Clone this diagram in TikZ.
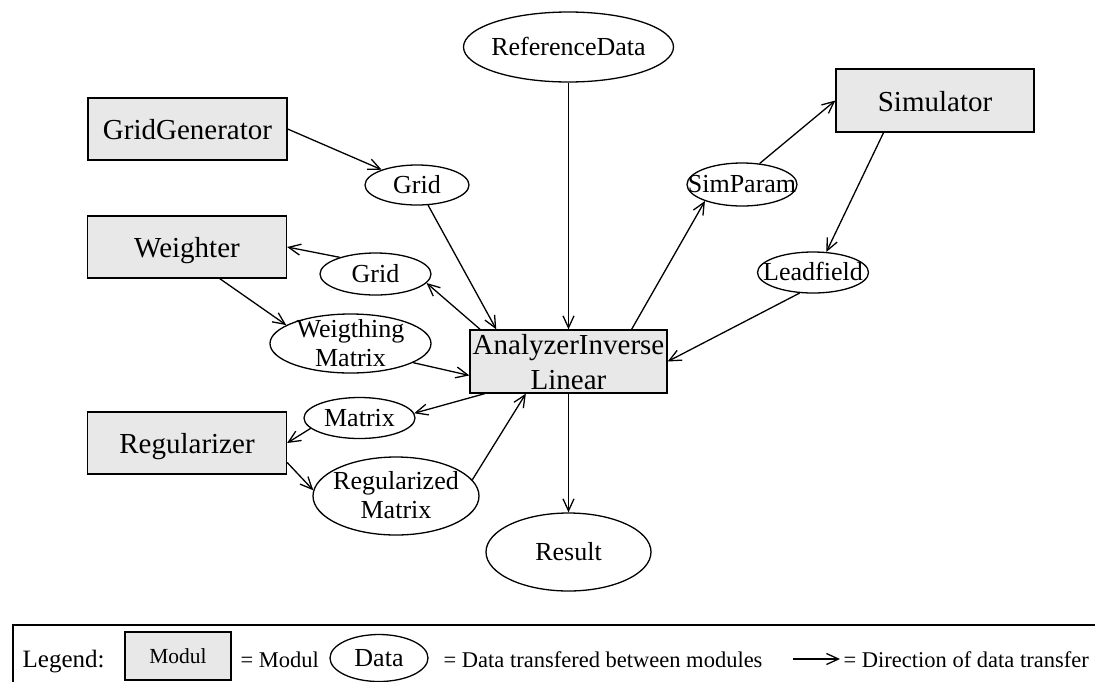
\documentclass[tikz,border=0pt]{standalone}
\usepackage{fontspec}
\setmainfont{Liberation Serif}
\usetikzlibrary{arrows.meta,shapes.geometric}
\definecolor{modulgray}{RGB}{232,232,232}
\newcommand{\mtext}[1]{\makebox[0pt]{\smash{\raisebox{-0.34em}{\begin{tabular}{@{}c@{}}#1\end{tabular}}}}}
\tikzset{
  modul/.style args={#1 by #2}{
    draw, fill=modulgray, rectangle, inner sep=0pt,
    minimum width=#1, minimum height=#2,
    font=\fontsize{29}{35}\selectfont
  },
  data/.style args={#1 by #2}{
    draw, ellipse, inner sep=0pt,
    minimum width=#1, minimum height=#2,
    font=\fontsize{26}{29}\selectfont
  },
  legendtext/.style={inner sep=0pt, anchor=base west, font=\fontsize{22.5}{27}\selectfont}
}

\begin{document}
\begin{tikzpicture}[x=1pt, y=-1pt, line width=1.3pt,
    >={Straight Barb[length=12pt,width=11pt]}]
  \useasboundingbox (0,0) rectangle (1095,681);

  % modules
  \node[modul=199pt by 62pt] (gridgen) at (187.5,129) {\mtext{GridGenerator}};
  \node[modul=199pt by 62pt] (weighter) at (187,247) {\mtext{Weighter}};
  \node[modul=199pt by 62pt] (regularizer) at (187,443) {\mtext{Regularizer}};
  \node[modul=197pt by 63pt] (analyzer) at (568.5,361.5) {\mtext{AnalyzerInverse\\Linear}};
  \node[modul=198pt by 63pt] (simulator) at (935,100.5) {\mtext{Simulator}};

  % data
  \node[data=210pt by 70pt] (refdata) at (568.5,47) {\mtext{ReferenceData}};
  \node[data=104pt by 40pt] (grid1) at (417,185) {\mtext{Grid}};
  \node[data=111pt by 42pt] (grid2) at (375.5,274) {\mtext{Grid}};
  \node[data=110pt by 43pt] (simparam) at (742,184.5) {\mtext{SimParam}};
  \node[data=111pt by 41pt] (leadfield) at (813,272.5) {\mtext{Leadfield}};
  \node[data=161pt by 59pt] (wmatrix) at (350.5,343.5) {\mtext{Weigthing\\Matrix}};
  \node[data=111pt by 41pt] (matrix) at (359.5,418) {\mtext{Matrix}};
  \node[data=166pt by 78pt] (regmatrix) at (396,496) {\mtext{Regularized\\Matrix}};
  \node[data=165pt by 78pt] (result) at (568.5,552) {\mtext{Result}};

  % data flow
  \draw[->] (gridgen.east) -- (grid1);
  \draw[->] (grid1) -- (analyzer.156);
  \draw[->] (refdata) -- (analyzer);
  \draw[->] (analyzer.27) -- (simparam.204);
  \draw[->] (simparam.50) -- (simulator.west);
  \draw[->] (simulator.212) -- (leadfield.57);
  \draw[->] (leadfield.237) -- (analyzer.east);
  \draw[->] (grid2.155) -- (weighter.east);
  \draw[->] (analyzer.160) -- (grid2.-10);
  \draw[->] (weighter.-44) -- (wmatrix.164);
  \draw[->] (wmatrix.-17) -- (analyzer.188);
  \draw[->] (analyzer.201) -- (matrix.5);
  \draw[->] (matrix.192) -- (regularizer.east);
  \draw[->] (regularizer.-11) -- (regmatrix.176);
  \draw[->] (regmatrix.12) -- (analyzer.217);
  \draw[->] (analyzer) -- (result);

  % legend
  \draw (13,625) rectangle (1110,700);
  \node[legendtext, font=\fontsize{25}{30}\selectfont] (legendlbl) at (22,667) {Legend:};
  \node[modul=106pt by 48pt, font=\fontsize{21.5}{26}\selectfont] (legmodul) at (178,656) {\mtext{Modul}};
  \node[legendtext] (legmodultxt) at (240,667) {= Modul};
  \node[data=98pt by 47pt] (legdata) at (379,658) {\mtext{Data}};
  \node[legendtext] (legdatatxt) at (443,667) {= Data transfered between modules};
  \coordinate (arrowstart) at (793,659);
  \coordinate (arrowend) at (840,659);
  \draw[->] (arrowstart) -- (arrowend);
  \node[legendtext] (legarrowtxt) at (843,667) {= Direction of data transfer};
\end{tikzpicture}
\end{document}
